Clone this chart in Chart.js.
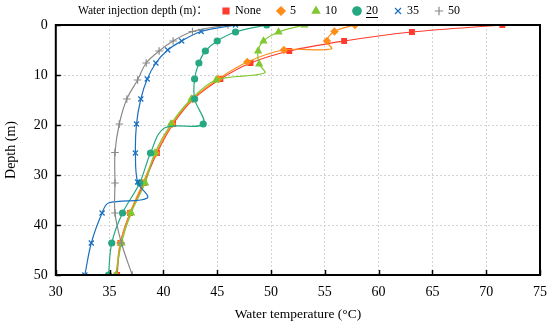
<!DOCTYPE html>
<html><head><meta charset="utf-8">
<script src="https://cdn.jsdelivr.net/npm/chart.js@4"></script>
<style>html,body{margin:0;padding:0;background:#fff}#wrap{width:550px;height:327px}</style>
</head><body><div id="wrap"><canvas id="c"></canvas></div>
<script>
// ---- data (temperature °C vs depth m) ----
const legendTitle = 'Water injection depth (m)：';
const seriesLabels = ['None', '5', '10', '20', '35', '50'];
const xTicks = [30, 35, 40, 45, 50, 55, 60, 65, 70, 75];
const yTicks = [0, 10, 20, 30, 40, 50];

const depthNone = [0, 1.4, 3.2, 5.2, 7.6, 10.8, 14.8, 19.8, 25.6, 31.6, 37.6, 43.6, 50];
const tempNone  = [71.5, 63.1, 56.8, 51.7, 48.1, 45.3, 42.8, 40.9, 39.4, 38.2, 36.9, 36.0, 35.7];

const depth5 = [0, 1.3, 3.2, 4.8, 5.0, 7.4, 10.8, 14.8, 19.8, 25.6, 31.6, 37.6, 43.6, 50];
const temp5  = [57.8, 55.9, 55.2, 55.6, 51.2, 47.8, 45.1, 42.7, 40.8, 39.3, 38.1, 36.9, 36.0, 35.6];
const bend5  = [3];

const depth10 = [0, 1.4, 3.2, 5.2, 7.8, 9.6, 11.0, 14.8, 19.8, 25.6, 31.6, 37.6, 43.6, 50];
const temp10  = [53.1, 50.7, 49.3, 48.8, 48.9, 49.4, 44.9, 42.6, 40.7, 39.2, 38.3, 37.0, 36.1, 35.6];
const bend10  = [5];

const depth20 = [0, 1.4, 3.2, 5.2, 7.6, 10.8, 14.8, 19.8, 20.6, 25.6, 31.6, 37.6, 43.6, 50];
const temp20  = [49.6, 46.7, 45.0, 43.9, 43.3, 42.9, 42.9, 43.7, 40.1, 38.8, 37.8, 36.2, 35.2, 34.9];
const bend20  = [8];

const depth35 = [0, 1.3, 3.2, 5.0, 7.6, 10.8, 14.8, 19.8, 25.6, 31.4, 34.6, 35.6, 37.6, 43.6, 50];
const temp35  = [46.7, 43.5, 41.7, 40.4, 39.3, 38.5, 37.9, 37.5, 37.4, 37.6, 38.5, 34.9, 34.3, 33.3, 32.7];
const bend35  = [10, 11];

const depth50 = [0, 1.3, 3.2, 5.2, 7.6, 11.0, 14.8, 19.8, 25.5, 31.6, 37.6, 43.6, 50];
const temp50  = [46.0, 42.7, 40.9, 39.6, 38.4, 37.6, 36.6, 35.9, 35.5, 35.5, 35.5, 36.1, 37.1];
const bend50  = [];

const FONT = "'Liberation Serif', 'Times New Roman', 'Noto Sans CJK SC', serif";
const LEGEND_ITEMS_LEFT = 223;   // x where first legend marker box starts
const LEGEND_TEXT_Y = 11;        // legend text centre line
const LEGEND_TITLE_GAP = 145;    // title starts this far left of first item

function pts(t, d) { return t.map((v, i) => ({ x: v, y: d[i] })); }

function ds(label, t, d, bends, color, style, r, order) {
  return {
    label, data: pts(t, d), showLine: true, tension: 0.35, order,
    borderColor: color, backgroundColor: color, borderWidth: 1.2,
    pointStyle: style, pointBorderWidth: 1.2,
    pointRadius: ctx => bends.includes(ctx.dataIndex) ? 0 : r,
    pointHoverRadius: 0
  };
}

// later series are drawn on top (lower order = drawn later)
const datasets = [
  ds(seriesLabels[0], tempNone, depthNone, [], '#ff3b2f', 'rect', 3.3, 6),
  ds(seriesLabels[1], temp5, depth5, bend5, '#ff8c1a', 'rectRot', 3.3, 5),
  ds(seriesLabels[2], temp10, depth10, bend10, '#80c832', 'triangle', 3.6, 4),
  ds(seriesLabels[3], temp20, depth20, bend20, '#26a882', 'circle', 3, 3),
  ds(seriesLabels[4], temp35, depth35, bend35, '#1a6fc0', 'crossRot', 3.6, 2),
  ds(seriesLabels[5], temp50, depth50, bend50, '#8a8a8a', 'cross', 3.8, 1)
];

const framePlugin = {
  id: 'frame',
  beforeLayout(chart) {
    const lg = chart.legend;
    if (lg && !lg._fixedH) {
      const fit = lg.fit.bind(lg);
      lg.fit = function () { fit(); this.height = 25; };
      lg._fixedH = true;
    }
  },
  afterLayout(chart) {
    const lg = chart.legend;
    if (!lg) return;
    const p = lg.options.labels.padding;
    lg.left = LEGEND_ITEMS_LEFT - p;
    lg.top = LEGEND_TEXT_Y - 6 - p;
    lg.bottom = chart.chartArea.top;
  },
  afterDraw(chart) {
    const { ctx, chartArea: a, scales: { x, y } } = chart;
    ctx.save();
    ctx.strokeStyle = '#000';
    ctx.lineWidth = 2;
    ctx.strokeRect(a.left, a.top, a.right - a.left, a.bottom - a.top);
    ctx.lineWidth = 1.5;
    xTicks.forEach(v => {
      const px = Math.round(x.getPixelForValue(v)) + 0.5;
      ctx.beginPath(); ctx.moveTo(px, a.bottom); ctx.lineTo(px, a.bottom - 5); ctx.stroke();
    });
    yTicks.forEach(v => {
      const py = Math.round(y.getPixelForValue(v)) + 0.5;
      ctx.beginPath(); ctx.moveTo(a.left, py); ctx.lineTo(a.left + 5, py); ctx.stroke();
    });
    const lg = chart.legend;
    if (lg && lg.legendHitBoxes && lg.legendHitBoxes.length) {
      const lo = lg.options.labels;
      const hb0 = lg.legendHitBoxes[0];
      // legend title
      ctx.fillStyle = '#000';
      ctx.font = '11.5px ' + FONT;
      ctx.textAlign = 'left';
      ctx.textBaseline = 'middle';
      ctx.fillText(legendTitle, hb0.left - LEGEND_TITLE_GAP, hb0.top + hb0.height / 2);
      // underline legend label "20"
      const idx = lg.legendItems.findIndex(it => it.text === '20');
      const hb = lg.legendHitBoxes[idx];
      if (hb) {
        ctx.font = '12px ' + FONT;
        const w = ctx.measureText('20').width;
        const tx = hb.left + lo.boxWidth + 6;
        const ty = Math.round(hb.top + hb.height / 2 + 6) + 0.5;
        ctx.lineWidth = 1;
        ctx.beginPath(); ctx.moveTo(tx, ty); ctx.lineTo(tx + w, ty); ctx.stroke();
      }
    }
    ctx.restore();
  }
};

new Chart(document.getElementById('c'), {
  type: 'scatter',
  data: { datasets },
  plugins: [framePlugin],
  options: {
    responsive: true, maintainAspectRatio: false, animation: false, devicePixelRatio: 1,
    layout: { padding: { top: 0, right: 10, left: 3, bottom: 4 } },
    plugins: {
      tooltip: { enabled: false },
      legend: {
        position: 'top', align: 'start',
        labels: {
          usePointStyle: true, boxWidth: 6, boxHeight: 6, padding: 17, color: '#000',
          font: { family: FONT, size: 12 },
          sort: (a, b) => a.datasetIndex - b.datasetIndex
        },
        onClick() {}
      }
    },
    scales: {
      x: {
        type: 'linear', position: 'bottom', min: 30, max: 75,
        afterBuildTicks: s => { s.ticks = xTicks.map(v => ({ value: v })); },
        afterFit: s => { s.paddingRight = 0; s.paddingLeft = 0; },
        ticks: { color: '#000', font: { family: FONT, size: 14 }, padding: 9 },
        grid: { color: '#d4d4d4', lineWidth: 1, drawTicks: false, tickLength: 0 },
        border: { display: false, dash: [2, 2] },
        title: { display: true, text: 'Water temperature (°C)', color: '#000', font: { family: FONT, size: 13.5 }, padding: { top: -3, bottom: 0 } }
      },
      y: {
        type: 'linear', reverse: true, min: 0, max: 50,
        afterBuildTicks: s => { s.ticks = yTicks.map(v => ({ value: v })); },
        ticks: { color: '#000', font: { family: FONT, size: 14 }, padding: 8 },
        grid: { color: '#d4d4d4', lineWidth: 1, drawTicks: false, tickLength: 0 },
        border: { display: false, dash: [2, 2] },
        title: { display: true, text: 'Depth (m)', color: '#000', font: { family: FONT, size: 14 }, padding: { top: 0, bottom: 6 } }
      }
    }
  }
});
</script>
</body></html>
